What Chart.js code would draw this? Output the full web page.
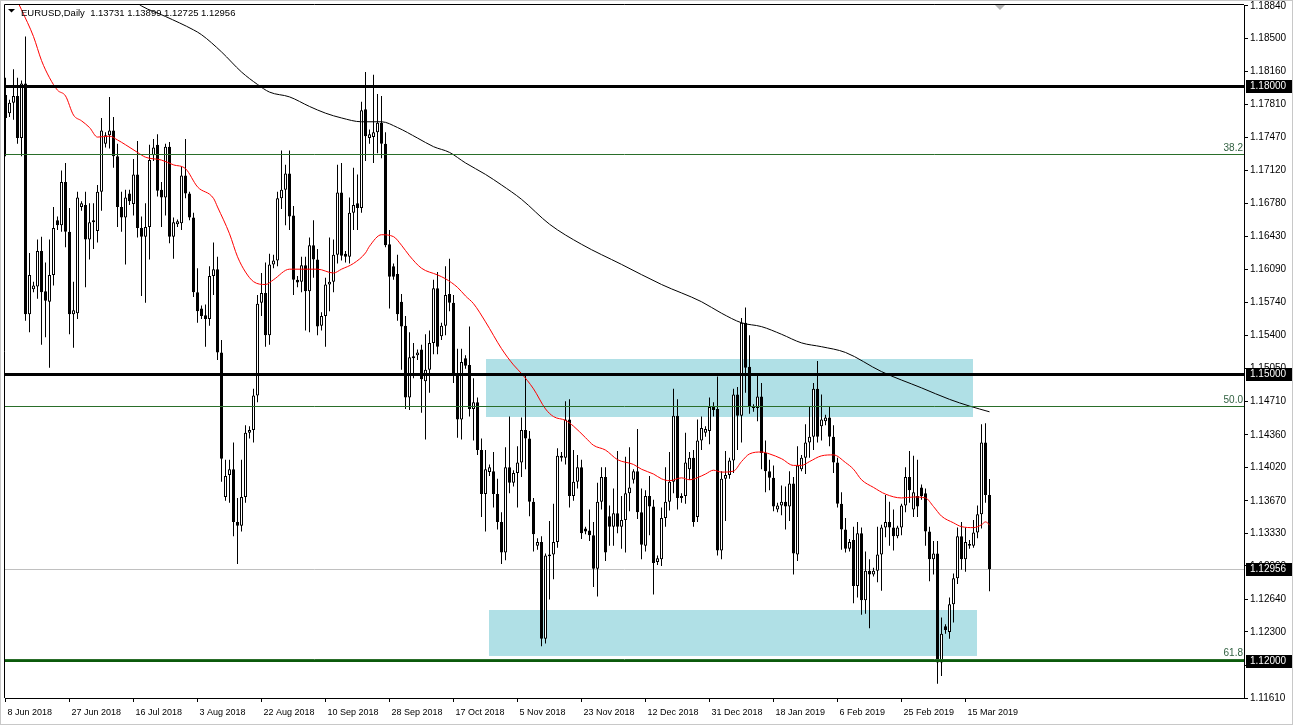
<!DOCTYPE html>
<html>
<head>
<meta charset="utf-8">
<script src="https://cdn.jsdelivr.net/npm/chart.js@4.4.1/dist/chart.umd.min.js"></script>
<style>
  html, body { margin: 0; padding: 0; background: #fff; overflow: hidden; }
  canvas { display: block; }
</style>
</head>
<body>
<canvas id="chart" width="1293" height="725"></canvas>
<script>
// EURUSD daily candles, one bar per trading day (broker has Sunday bars), 8 Jun 2018 .. 22 Mar 2019
const opens = [
  1.1791, 1.1772, 1.1783, 1.1790, 1.1746, 1.1803, 1.1562, 1.1588, 1.1591, 1.1628, 1.1586, 1.1575,
  1.1603, 1.1660, 1.1655, 1.1700, 1.1648, 1.1562, 1.1563, 1.1674, 1.1676, 1.1640, 1.1658, 1.1649,
  1.1690, 1.1740, 1.1749, 1.1754, 1.1727, 1.1674, 1.1663, 1.1688, 1.1677, 1.1708, 1.1652, 1.1643,
  1.1653, 1.1728, 1.1739, 1.1692, 1.1684, 1.1737, 1.1643, 1.1656, 1.1657, 1.1707, 1.1688, 1.1663,
  1.1585, 1.1568, 1.1561, 1.1557, 1.1602, 1.1609, 1.1522, 1.1371, 1.1394, 1.1400, 1.1345, 1.1341,
  1.1371, 1.1438, 1.1441, 1.1477, 1.1574, 1.1584, 1.1540, 1.1614, 1.1618, 1.1683, 1.1692, 1.1709,
  1.1665, 1.1598, 1.1596, 1.1613, 1.1586, 1.1634, 1.1619, 1.1550, 1.1560, 1.1593, 1.1596, 1.1624,
  1.1689, 1.1625, 1.1622, 1.1668, 1.1678, 1.1673, 1.1776, 1.1746, 1.1747, 1.1752, 1.1762, 1.1740,
  1.1635, 1.1612, 1.1604, 1.1575, 1.1550, 1.1475, 1.1518, 1.1519, 1.1525, 1.1492, 1.1504, 1.1532,
  1.1589, 1.1539, 1.1550, 1.1583, 1.1574, 1.1500, 1.1452, 1.1516, 1.1509, 1.1463, 1.1470, 1.1420,
  1.1374, 1.1397, 1.1398, 1.1374, 1.1345, 1.1313, 1.1402, 1.1386, 1.1396, 1.1407, 1.1441, 1.1432,
  1.1366, 1.1320, 1.1324, 1.1223, 1.1309, 1.1311, 1.1324, 1.1414, 1.1412, 1.1452, 1.1372, 1.1387,
  1.1402, 1.1338, 1.1336, 1.1331, 1.1296, 1.1366, 1.1392, 1.1351, 1.1340, 1.1354, 1.1340, 1.1347,
  1.1375, 1.1389, 1.1398, 1.1355, 1.1320, 1.1372, 1.1361, 1.1303, 1.1306, 1.1349, 1.1366, 1.1387,
  1.1456, 1.1372, 1.1372, 1.1400, 1.1412, 1.1350, 1.1430, 1.1438, 1.1440, 1.1466, 1.1463, 1.1315,
  1.1390, 1.1394, 1.1409, 1.1478, 1.1456, 1.1553, 1.1507, 1.1466, 1.1464, 1.1476, 1.1417, 1.1398,
  1.1391, 1.1358, 1.1362, 1.1366, 1.1361, 1.1385, 1.1311, 1.1400, 1.1412, 1.1428, 1.1434, 1.1484,
  1.1445, 1.1450, 1.1454, 1.1434, 1.1407, 1.1364, 1.1337, 1.1317, 1.1326, 1.1278, 1.1333, 1.1263,
  1.1294, 1.1290, 1.1294, 1.1311, 1.1339, 1.1345, 1.1339, 1.1330, 1.1339, 1.1362, 1.1392, 1.1358,
  1.1372, 1.1381, 1.1375, 1.1335, 1.1306, 1.1312, 1.1198, 1.1236, 1.1230, 1.1259, 1.1286, 1.1330,
  1.1306, 1.1322, 1.1320, 1.1334, 1.1353, 1.1428, 1.13731
];
const highs = [
  1.1809, 1.1786, 1.1818, 1.1809, 1.1806, 1.1852, 1.1626, 1.1596, 1.1640, 1.1643, 1.1616, 1.1640,
  1.1674, 1.1664, 1.1712, 1.1720, 1.1673, 1.1596, 1.1690, 1.1680, 1.1690, 1.1678, 1.1678, 1.1697,
  1.1767, 1.1752, 1.1789, 1.1768, 1.1740, 1.1690, 1.1692, 1.1692, 1.1724, 1.1743, 1.1664, 1.1678,
  1.1739, 1.1745, 1.1750, 1.1700, 1.1740, 1.1742, 1.1663, 1.1661, 1.1716, 1.1745, 1.1690, 1.1668,
  1.1610, 1.1571, 1.1572, 1.1612, 1.1637, 1.1622, 1.1535, 1.1410, 1.1410, 1.1428, 1.1370, 1.1410,
  1.1446, 1.1445, 1.1484, 1.1582, 1.1605, 1.1616, 1.1625, 1.1624, 1.1690, 1.1733, 1.1718, 1.1733,
  1.1675, 1.1602, 1.1622, 1.1622, 1.1642, 1.1660, 1.1630, 1.1564, 1.1600, 1.1642, 1.1640, 1.1718,
  1.1720, 1.1628, 1.1684, 1.1715, 1.1708, 1.1784, 1.1815, 1.1755, 1.1812, 1.1792, 1.1790, 1.1752,
  1.1650, 1.1615, 1.1624, 1.1583, 1.1560, 1.1543, 1.1532, 1.1525, 1.1530, 1.1541, 1.1545, 1.1598,
  1.1606, 1.1553, 1.1612, 1.1620, 1.1582, 1.1526, 1.1526, 1.1519, 1.1549, 1.1495, 1.1475, 1.1432,
  1.1420, 1.1405, 1.1418, 1.1390, 1.1355, 1.1423, 1.1455, 1.1399, 1.1424, 1.1454, 1.1500, 1.1440,
  1.1370, 1.1328, 1.1330, 1.1312, 1.1346, 1.1364, 1.1422, 1.1418, 1.1471, 1.1473, 1.1420, 1.1415,
  1.1410, 1.1340, 1.1358, 1.1345, 1.1386, 1.1402, 1.1402, 1.1362, 1.1380, 1.1419, 1.1372, 1.1413,
  1.1423, 1.1400, 1.1442, 1.1380, 1.1378, 1.1393, 1.1368, 1.1310, 1.1360, 1.1402, 1.1418, 1.1484,
  1.1473, 1.1375, 1.1438, 1.1418, 1.1420, 1.1452, 1.1455, 1.1445, 1.1475, 1.1470, 1.1497, 1.1398,
  1.1419, 1.1412, 1.1484, 1.1486, 1.1558, 1.1569, 1.1540, 1.1468, 1.1499, 1.1490, 1.1430, 1.1410,
  1.1404, 1.1365, 1.1383, 1.1382, 1.1398, 1.1392, 1.1424, 1.1415, 1.1447, 1.1465, 1.1490, 1.1513,
  1.1478, 1.1457, 1.1465, 1.1446, 1.1412, 1.1376, 1.1349, 1.1327, 1.1340, 1.1345, 1.1339, 1.1314,
  1.1306, 1.1297, 1.1340, 1.1342, 1.1373, 1.1366, 1.1358, 1.1341, 1.1364, 1.1402, 1.1419, 1.1414,
  1.1410, 1.1384, 1.1380, 1.1340, 1.1325, 1.1325, 1.1245, 1.1238, 1.1266, 1.1291, 1.1339, 1.1345,
  1.1339, 1.1326, 1.1347, 1.1362, 1.1447, 1.1448, 1.13899
];
const lows = [
  1.1727, 1.1768, 1.1765, 1.1740, 1.1727, 1.1555, 1.1543, 1.1585, 1.1578, 1.1530, 1.1538, 1.1506,
  1.1592, 1.1650, 1.1648, 1.1632, 1.1541, 1.1527, 1.1557, 1.1670, 1.1590, 1.1619, 1.1630, 1.1637,
  1.1670, 1.1736, 1.1735, 1.1715, 1.1653, 1.1648, 1.1614, 1.1676, 1.1665, 1.1642, 1.1581, 1.1574,
  1.1619, 1.1722, 1.1685, 1.1653, 1.1665, 1.1636, 1.1620, 1.1653, 1.1650, 1.1683, 1.1660, 1.1580,
  1.1553, 1.1557, 1.1528, 1.1550, 1.1582, 1.1514, 1.1387, 1.1367, 1.1365, 1.1330, 1.1301, 1.1335,
  1.1365, 1.1432, 1.1428, 1.1470, 1.1560, 1.1528, 1.1530, 1.1610, 1.1612, 1.1672, 1.1655, 1.1650,
  1.1582, 1.1590, 1.1585, 1.1545, 1.1543, 1.1600, 1.1540, 1.1545, 1.1528, 1.1565, 1.1585, 1.1615,
  1.1618, 1.1616, 1.1615, 1.1650, 1.1650, 1.1668, 1.1722, 1.1740, 1.1720, 1.1730, 1.1725, 1.1632,
  1.1568, 1.1598, 1.1555, 1.1504, 1.1463, 1.1462, 1.1495, 1.1514, 1.1459, 1.1431, 1.1480, 1.1520,
  1.1520, 1.1535, 1.1540, 1.1565, 1.1490, 1.1433, 1.1431, 1.1505, 1.1455, 1.1430, 1.1415, 1.1350,
  1.1335, 1.1393, 1.1360, 1.1337, 1.1301, 1.1305, 1.1375, 1.1382, 1.1360, 1.1392, 1.1400, 1.1351,
  1.1314, 1.1316, 1.1215, 1.1218, 1.1264, 1.1285, 1.1318, 1.1408, 1.1405, 1.1360, 1.1367, 1.1380,
  1.1327, 1.1332, 1.1325, 1.1277, 1.1267, 1.1358, 1.1304, 1.1320, 1.1320, 1.1333, 1.1317, 1.1313,
  1.1356, 1.1385, 1.1348, 1.1306, 1.1314, 1.1331, 1.1269, 1.1300, 1.1299, 1.1340, 1.1357, 1.1375,
  1.1358, 1.1365, 1.1364, 1.1389, 1.1340, 1.1345, 1.1420, 1.1434, 1.1426, 1.1455, 1.1310, 1.1306,
  1.1346, 1.1390, 1.1396, 1.1420, 1.1428, 1.1480, 1.1458, 1.1460, 1.1450, 1.1400, 1.1376, 1.1378,
  1.1356, 1.1355, 1.1352, 1.1337, 1.1346, 1.1290, 1.1304, 1.1398, 1.1395, 1.1412, 1.1420, 1.1428,
  1.1430, 1.1446, 1.1424, 1.1396, 1.1360, 1.1316, 1.1313, 1.1314, 1.1260, 1.1266, 1.1248, 1.1249,
  1.1234, 1.1288, 1.1282, 1.1273, 1.1329, 1.1320, 1.1315, 1.1328, 1.1331, 1.1355, 1.1365, 1.1350,
  1.1350, 1.1368, 1.1320, 1.1283, 1.1290, 1.1176, 1.1184, 1.1228, 1.1223, 1.1240, 1.1280, 1.1295,
  1.1293, 1.1317, 1.1318, 1.1328, 1.1338, 1.1365, 1.12725
];
const closes = [
  1.1767, 1.1783, 1.1790, 1.1746, 1.1803, 1.1562, 1.1603, 1.1592, 1.1628, 1.1585, 1.1576, 1.1603,
  1.1652, 1.1655, 1.1700, 1.1648, 1.1562, 1.1566, 1.1684, 1.1678, 1.1640, 1.1658, 1.1660, 1.1690,
  1.1754, 1.1749, 1.1754, 1.1727, 1.1674, 1.1663, 1.1684, 1.1680, 1.1708, 1.1652, 1.1643, 1.1653,
  1.1723, 1.1736, 1.1691, 1.1684, 1.1737, 1.1643, 1.1658, 1.1659, 1.1707, 1.1688, 1.1663, 1.1585,
  1.1565, 1.1560, 1.1557, 1.1602, 1.1609, 1.1522, 1.1411, 1.1393, 1.1400, 1.1345, 1.1341, 1.1371,
  1.1438, 1.1441, 1.1477, 1.1573, 1.1584, 1.1540, 1.1614, 1.1618, 1.1683, 1.1692, 1.1709, 1.1664,
  1.1598, 1.1595, 1.1613, 1.1586, 1.1634, 1.1619, 1.1549, 1.1560, 1.1593, 1.1596, 1.1624, 1.1689,
  1.1623, 1.1622, 1.1668, 1.1676, 1.1673, 1.1775, 1.1748, 1.1750, 1.1752, 1.1762, 1.1740, 1.1634,
  1.1601, 1.1601, 1.1562, 1.1549, 1.1475, 1.1517, 1.1516, 1.1522, 1.1494, 1.1504, 1.1532, 1.1589,
  1.1528, 1.1550, 1.1582, 1.1574, 1.1499, 1.1452, 1.1512, 1.1508, 1.1463, 1.1470, 1.1420, 1.1374,
  1.1400, 1.1402, 1.1374, 1.1345, 1.1313, 1.1402, 1.1386, 1.1396, 1.1407, 1.1441, 1.1432, 1.1366,
  1.1332, 1.1324, 1.1223, 1.1310, 1.1311, 1.1324, 1.1414, 1.1412, 1.1452, 1.1372, 1.1387, 1.1402,
  1.1333, 1.1335, 1.1331, 1.1296, 1.1366, 1.1392, 1.1313, 1.1340, 1.1354, 1.1340, 1.1347, 1.1375,
  1.1381, 1.1398, 1.1355, 1.1321, 1.1372, 1.1361, 1.1302, 1.1307, 1.1349, 1.1366, 1.1387, 1.1456,
  1.1370, 1.1370, 1.1407, 1.1412, 1.1345, 1.1430, 1.1443, 1.1442, 1.1465, 1.1462, 1.1315, 1.1390,
  1.1394, 1.1409, 1.1478, 1.1456, 1.1553, 1.1506, 1.1466, 1.1464, 1.1476, 1.1417, 1.1398, 1.1391,
  1.1361, 1.1362, 1.1366, 1.1361, 1.1385, 1.1312, 1.1404, 1.1412, 1.1428, 1.1434, 1.1484, 1.1434,
  1.1452, 1.1454, 1.1434, 1.1407, 1.1364, 1.1337, 1.1317, 1.1324, 1.1278, 1.1333, 1.1263, 1.1294,
  1.1290, 1.1294, 1.1311, 1.1339, 1.1345, 1.1339, 1.1330, 1.1339, 1.1362, 1.1392, 1.1378, 1.1376,
  1.1361, 1.1372, 1.1335, 1.1306, 1.1312, 1.1198, 1.1228, 1.1232, 1.1259, 1.1286, 1.1330, 1.1306,
  1.1324, 1.1320, 1.1334, 1.1353, 1.1428, 1.1373, 1.12956
];

// date labels on the time axis (bar index -> label)
const dateTicks = [0, 16, 32, 48, 64, 80, 96, 112, 128, 144, 160, 176, 192, 208, 224, 240];
const dateLabels = ['8 Jun 2018', '27 Jun 2018', '16 Jul 2018', '3 Aug 2018', '22 Aug 2018', '10 Sep 2018',
  '28 Sep 2018', '17 Oct 2018', '5 Nov 2018', '23 Nov 2018', '12 Dec 2018', '31 Dec 2018',
  '18 Jan 2019', '6 Feb 2019', '25 Feb 2019', '15 Mar 2019'];

// price scale labels
const priceTicks = [1.1884, 1.1850, 1.1816, 1.1781, 1.1747, 1.1712, 1.1678, 1.1643, 1.1609, 1.1574, 1.1540,
  1.1505, 1.1471, 1.1436, 1.1402, 1.1367, 1.1333, 1.1299, 1.1264, 1.1230, 1.1195, 1.1161];

// moving averages (bar index, value)
const redMaIdx = [3, 4, 7, 9, 11, 13, 15, 17, 19, 21, 23, 26, 28, 30, 33, 35, 39, 42, 45, 48, 52, 53, 56, 58, 60,
  62, 65, 67, 71, 78, 82, 84, 87, 90, 91, 94, 97, 99, 101, 104, 108, 110, 113, 115, 117, 120, 124, 127,
  129, 132, 135, 137, 140, 142, 145, 147, 150, 153, 157, 159, 162, 164, 166, 169, 171, 174, 175, 177,
  179, 182, 184, 186, 189, 191, 194, 197, 199, 201, 204, 207, 210, 212, 214, 217, 220, 224, 227, 230,
  232, 234, 237, 239, 242, 244, 245, 246];
const redMaVal = [1.1889, 1.1880, 1.1852, 1.1827, 1.1809, 1.1796, 1.1790, 1.1770, 1.1764, 1.1757, 1.1747,
  1.1748, 1.1744, 1.1739, 1.1731, 1.1726, 1.1723, 1.1718, 1.1714, 1.1695, 1.1683, 1.1674, 1.1646, 1.1622,
  1.1606, 1.1596, 1.1593, 1.1598, 1.1609, 1.1609, 1.1605, 1.1609, 1.1615, 1.1626, 1.1633, 1.1645, 1.1643,
  1.1634, 1.1623, 1.1610, 1.1603, 1.1599, 1.1590, 1.1581, 1.1573, 1.1554, 1.1526, 1.1509, 1.1500, 1.1484,
  1.1463, 1.1455, 1.1451, 1.1445, 1.1433, 1.1425, 1.1420, 1.1410, 1.1405, 1.1400, 1.1395, 1.1390, 1.1388,
  1.1391, 1.1389, 1.1393, 1.1395, 1.1399, 1.1397, 1.1398, 1.1408, 1.1416, 1.1418, 1.1416, 1.1411, 1.1404,
  1.1404, 1.1408, 1.1414, 1.1415, 1.1407, 1.1400, 1.1389, 1.1381, 1.1374, 1.1370, 1.1371, 1.1370, 1.1361,
  1.1351, 1.1344, 1.1340, 1.1339, 1.1342, 1.1345, 1.1342];
const blackMaIdx = [32, 34, 40, 47, 49, 54, 59, 63, 66, 71, 76, 80, 84, 89, 94, 98, 103, 107, 111, 115, 120,
  124, 129, 136, 144, 154, 164, 174, 179, 184, 189, 194, 199, 204, 210, 219, 229, 236, 241, 246];
const blackMaVal = [1.1890, 1.1884, 1.1873, 1.1859, 1.1854, 1.1836, 1.1815, 1.1802, 1.1794, 1.1789, 1.1779,
  1.1772, 1.1767, 1.1763, 1.1763, 1.1757, 1.1746, 1.1737, 1.1731, 1.1720, 1.1708, 1.1697, 1.1682, 1.1656,
  1.1635, 1.1614, 1.1593, 1.1575, 1.1563, 1.1553, 1.1549, 1.1541, 1.1532, 1.1528, 1.1522, 1.1502, 1.1485,
  1.1473, 1.1466, 1.1460];

// drawn objects
const levelValues = [1.18, 1.15, 1.12];
const fibValues = [1.17296, 1.14656, 1.12016];
const fibLabels = ['38.2', '50.0', '61.8'];
const zoneFrom = [120, 121];
const zoneTo = [241.75, 242.75];
const zoneHigh = [1.15147, 1.12528];
const zoneLow = [1.14542, 1.12048];
const bidPrice = 1.12956;
const tagValues = [1.18, 1.15, 1.12956, 1.12];
const headerText = 'EURUSD,Daily  1.13731 1.13899 1.12725 1.12956';

const levelStyles = [
  { color: '#000000', width: 3 },
  { color: '#000000', width: 3 },
  { color: '#0b5a0b', width: 2 }
];

const bodyData = opens.map((o, i) => ({ x: i, y: [o, closes[i]] }));
const wickData = highs.map((h, i) => ({ x: i, y: [lows[i], h] }));
const bodyColors = opens.map((o, i) => closes[i] >= o ? '#ffffff' : '#000000');

Chart.defaults.font.family = '"Liberation Sans", Arial, sans-serif';
Chart.defaults.color = '#000';

function hLine(ctx, area, yPix, color, width) {
  ctx.strokeStyle = color;
  ctx.lineWidth = width;
  ctx.beginPath();
  ctx.moveTo(area.left, yPix);
  ctx.lineTo(area.right, yPix);
  ctx.stroke();
}

const mt4Overlay = {
  id: 'mt4Overlay',
  beforeDatasetsDraw(chart) {
    const { ctx, chartArea: a, scales: { x, y } } = chart;
    ctx.save();
    ctx.beginPath();
    ctx.rect(a.left, a.top, a.right - a.left, a.bottom - a.top);
    ctx.clip();
    // support / resistance zones
    ctx.fillStyle = '#b0e0e6';
    zoneFrom.forEach((f, k) => {
      const x0 = Math.round(x.getPixelForValue(f));
      const x1 = Math.round(x.getPixelForValue(zoneTo[k]));
      const y0 = Math.round(y.getPixelForValue(zoneHigh[k]));
      const y1 = Math.round(y.getPixelForValue(zoneLow[k]));
      ctx.fillRect(x0, y0, x1 - x0, y1 - y0);
    });
    // bid line
    hLine(ctx, a, Math.round(y.getPixelForValue(bidPrice)) + 0.5, '#c0c0c0', 1);
    ctx.restore();
  },
  afterDatasetsDraw(chart) {
    const { ctx, chartArea: a, scales: { y } } = chart;
    ctx.save();
    ctx.beginPath();
    ctx.rect(a.left, a.top, a.right - a.left, a.bottom - a.top);
    ctx.clip();
    // horizontal levels
    levelValues.forEach((v, k) => {
      const st = levelStyles[k];
      let yp = Math.round(y.getPixelForValue(v));
      if (st.width % 2 === 1) yp += 0.5;
      hLine(ctx, a, yp, st.color, st.width);
    });
    // fibonacci levels
    ctx.font = '10px "Liberation Sans", Arial, sans-serif';
    ctx.textAlign = 'right';
    ctx.textBaseline = 'bottom';
    fibValues.forEach((v, k) => {
      const yp = Math.round(y.getPixelForValue(v)) + 0.5;
      hLine(ctx, a, yp, '#2a6e2a', 1);
      ctx.fillStyle = '#2f5f3f';
      ctx.fillText(fibLabels[k], a.right - 1, yp - 1);
    });
    ctx.restore();
  },
  afterDraw(chart) {
    const { ctx, chartArea: a, scales: { x, y } } = chart;
    ctx.save();
    // chart frame (left and top; right/bottom are the axis borders)
    ctx.strokeStyle = '#000';
    ctx.lineWidth = 1;
    ctx.beginPath();
    ctx.moveTo(a.left - 0.5, a.bottom);
    ctx.lineTo(a.left - 0.5, a.top - 0.5);
    ctx.lineTo(a.right, a.top - 0.5);
    ctx.stroke();

    // price tags on the axis
    ctx.font = '10px "Liberation Sans", Arial, sans-serif';
    ctx.textAlign = 'left';
    ctx.textBaseline = 'middle';
    tagValues.forEach(v => {
      const yp = Math.round(y.getPixelForValue(v));
      ctx.fillStyle = '#000';
      ctx.fillRect(a.right + 2, yp - 6, 46, 13);
      ctx.fillStyle = '#fff';
      ctx.fillText(v.toFixed(5), a.right + 6, yp + 0.5);
    });

    // header
    ctx.fillStyle = '#000';
    ctx.beginPath();
    ctx.moveTo(8, 9);
    ctx.lineTo(15, 9);
    ctx.lineTo(11.5, 12.5);
    ctx.closePath();
    ctx.fill();
    ctx.font = '9.5px "Liberation Sans", Arial, sans-serif';
    ctx.textBaseline = 'middle';
    ctx.fillText(headerText, 21, 13);

    // chart shift marker
    const sx = Math.round(x.getPixelForValue(opens.length + 1.5));
    ctx.fillStyle = '#b4b4b4';
    ctx.beginPath();
    ctx.moveTo(sx - 5, a.top);
    ctx.lineTo(sx + 5, a.top);
    ctx.lineTo(sx, a.top + 5);
    ctx.closePath();
    ctx.fill();

    // window border
    ctx.strokeStyle = '#c8c8c8';
    ctx.strokeRect(0.5, 0.5, chart.width - 1, chart.height - 1);
    ctx.restore();
  }
};

new Chart(document.getElementById('chart'), {
  type: 'bar',
  data: {
    datasets: [
      {
        type: 'line', data: redMaIdx.map((v, k) => ({ x: v, y: redMaVal[k] })),
        borderColor: '#ff0000', borderWidth: 1, pointRadius: 0, cubicInterpolationMode: 'monotone', order: 0
      },
      {
        type: 'line', data: blackMaIdx.map((v, k) => ({ x: v, y: blackMaVal[k] })),
        borderColor: '#000000', borderWidth: 1, pointRadius: 0, cubicInterpolationMode: 'monotone', order: 0
      },
      {
        data: bodyData, backgroundColor: bodyColors, borderColor: '#000', borderWidth: 1,
        borderSkipped: false, barThickness: 3, minBarLength: 1, inflateAmount: 0, grouped: false, order: 1
      },
      {
        data: wickData, backgroundColor: '#000', borderWidth: 0,
        barThickness: 1, inflateAmount: 0, grouped: false, order: 2
      }
    ]
  },
  options: {
    responsive: false,
    devicePixelRatio: 1,
    animation: false,
    events: [],
    layout: { padding: { left: 5, top: 5, right: 0, bottom: 0 } },
    plugins: { legend: { display: false }, tooltip: { enabled: false } },
    scales: {
      x: {
        type: 'linear',
        position: 'bottom',
        offset: false,
        min: -0.125,
        max: 309.625,
        grid: { drawOnChartArea: false, drawTicks: true, tickLength: 4, color: '#000', offset: false },
        border: { display: true, color: '#000' },
        ticks: {
          autoSkip: false, maxRotation: 0, minRotation: 0, align: 'start', labelOffset: 2, padding: 5,
          font: { size: 9 }, color: '#000',
          callback: v => { const k = dateTicks.indexOf(v); return k >= 0 ? dateLabels[k] : ''; }
        },
        afterBuildTicks: s => { s.ticks = dateTicks.map(v => ({ value: v })); },
        afterFit: s => { s.height = 27; s.paddingLeft = 0; s.paddingRight = 0; }
      },
      y: {
        type: 'linear',
        position: 'right',
        min: 1.1161,
        max: 1.1885,
        grid: { drawOnChartArea: false, drawTicks: true, tickLength: 4, color: '#000' },
        border: { display: true, color: '#000' },
        ticks: {
          padding: 2, font: { size: 10 }, color: '#000',
          callback: v => v.toFixed(5)
        },
        afterBuildTicks: s => { s.ticks = priceTicks.map(v => ({ value: v })); },
        afterFit: s => { s.width = 49; s.paddingTop = 0; s.paddingBottom = 0; }
      }
    }
  },
  plugins: [mt4Overlay]
});
</script>
</body>
</html>
